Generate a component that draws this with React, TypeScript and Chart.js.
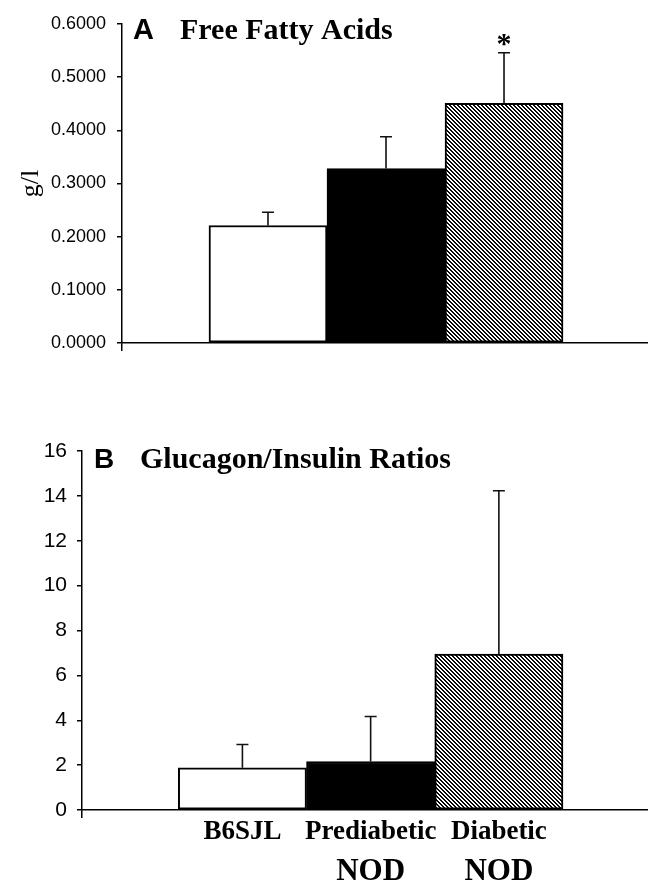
import React, { useEffect, useRef } from 'react';
import { Chart, registerables } from 'chart.js';

Chart.register(...registerables);

// ---- data ----
const groups = ['B6SJL', 'Prediabetic', 'Diabetic'];
const groupSubLabels = ['', 'NOD', 'NOD'];
const groupPositions = [1, 2, 3];

const ffaMeans = [0.221, 0.328, 0.451];
const ffaErrors = [0.025, 0.06, 0.095];
const ffaSignificant = [false, false, true];
const ffaTicks = [0, 0.1, 0.2, 0.3, 0.4, 0.5, 0.6];

const ratioMeans = [1.88, 2.16, 6.95];
const ratioErrors = [1.04, 2.01, 7.28];
const ratioSignificant = [false, false, false];
const ratioTicks = [0, 2, 4, 6, 8, 10, 12, 14, 16];

const SERIF = '"Liberation Serif", "Times New Roman", serif';
const SANS = '"Liberation Sans", Arial, sans-serif';

function makeHatch(): CanvasPattern | string {
  const c = document.createElement('canvas');
  c.width = 4;
  c.height = 4;
  const g = c.getContext('2d');
  if (!g) return '#888';
  const img = g.createImageData(4, 4);
  for (let y = 0; y < 4; y++) {
    for (let x = 0; x < 4; x++) {
      const on = (((x - y) % 4) + 4) % 4 < 2;
      const i = (y * 4 + x) * 4;
      const v = on ? 10 : 255;
      img.data[i] = v;
      img.data[i + 1] = v;
      img.data[i + 2] = v;
      img.data[i + 3] = 255;
    }
  }
  g.putImageData(img, 0, 0);
  const p = g.createPattern(c, 'repeat');
  return p || '#888';
}

const errorBarsPlugin = {
  id: 'errorBars',
  afterDatasetsDraw(chart: any, _args: any, opts: any) {
    const meta = chart.getDatasetMeta(0);
    const ys = chart.scales.y;
    const ctx = chart.ctx;
    ctx.save();
    ctx.strokeStyle = '#111';
    ctx.fillStyle = '#000';
    ctx.lineWidth = 1.6;
    opts.errors.forEach((e: number, i: number) => {
      const bar = meta.data[i];
      if (!bar) return;
      const top = ys.getPixelForValue(opts.means[i] + e);
      ctx.beginPath();
      ctx.moveTo(bar.x, bar.y);
      ctx.lineTo(bar.x, top);
      ctx.moveTo(bar.x - 6, top);
      ctx.lineTo(bar.x + 6, top);
      ctx.stroke();
      if (opts.marks && opts.marks[i]) {
        ctx.font = `bold 30px ${SERIF}`;
        ctx.textAlign = 'center';
        ctx.textBaseline = 'alphabetic';
        ctx.fillText('*', bar.x, top);
      }
    });
    ctx.restore();
  },
};

const panelTitlePlugin = {
  id: 'panelTitle',
  afterDraw(chart: any, _args: any, opts: any) {
    const ctx = chart.ctx;
    const a = chart.chartArea;
    ctx.save();
    ctx.fillStyle = '#000';
    ctx.textAlign = 'left';
    ctx.textBaseline = 'alphabetic';
    ctx.font = `bold ${opts.letterSize}px ${SANS}`;
    ctx.fillText(opts.letter, a.left + opts.letterDx, a.top + opts.dy);
    ctx.font = `bold 30px ${SERIF}`;
    ctx.fillText(opts.text, a.left + opts.textDx, a.top + opts.dy);
    ctx.restore();
  },
};

const subLabelPlugin = {
  id: 'subLabels',
  afterDraw(chart: any, _args: any, opts: any) {
    if (!opts || !opts.labels) return;
    const ctx = chart.ctx;
    const xs = chart.scales.x;
    ctx.save();
    ctx.fillStyle = '#000';
    ctx.textAlign = 'center';
    ctx.textBaseline = 'alphabetic';
    ctx.font = `bold 31px ${SERIF}`;
    opts.labels.forEach((t: string, i: number) => {
      if (!t) return;
      ctx.fillText(t, xs.getPixelForValue(opts.positions[i]), xs.top + opts.dy);
    });
    ctx.restore();
  },
};

function buildConfig(p: {
  means: number[];
  errors: number[];
  marks: boolean[];
  ticks: number[];
  fill: any[];
  xMin: number;
  xMax: number;
  yWidth: number;
  xHeight: number;
  top: number;
  tickFont: any;
  tickPadding: number;
  tickFormat: (v: number) => string;
  showLabels: boolean;
  yTitle?: string;
  title: any;
  subLabels?: any;
}) {
  const yMin = p.ticks[0];
  const yMax = p.ticks[p.ticks.length - 1];
  return {
    type: 'bar' as const,
    data: {
      datasets: [
        {
          data: groupPositions.map((x, i) => ({ x, y: p.means[i] })),
          backgroundColor: p.fill,
          borderColor: '#000',
          borderWidth: 2,
          borderSkipped: false,
          barPercentage: 1,
          categoryPercentage: 1,
        },
      ],
    },
    plugins: [errorBarsPlugin, panelTitlePlugin, subLabelPlugin],
    options: {
      responsive: false,
      animation: false as const,
      devicePixelRatio: 1,
      layout: { padding: { top: p.top, left: 0, right: 0, bottom: 0 } },
      scales: {
        x: {
          type: 'linear' as const,
          position: 'bottom' as const,
          offset: false,
          bounds: 'data' as const,
          min: p.xMin,
          max: p.xMax,
          afterBuildTicks: (scale: any) => {
            scale.ticks = [{ value: p.xMin }, ...groupPositions.map((v) => ({ value: v }))];
          },
          afterFit: (scale: any) => {
            scale.height = p.xHeight;
          },
          border: { display: true, color: '#000', width: 1.5 },
          grid: {
            display: true,
            offset: false,
            drawOnChartArea: false,
            drawTicks: true,
            tickLength: 8,
            lineWidth: 1.5,
            color: (ctx: any) => (ctx.tick && ctx.tick.value === p.xMin ? '#000' : 'rgba(0,0,0,0)'),
          },
          ticks: {
            autoSkip: false,
            maxRotation: 0,
            minRotation: 0,
            padding: 1,
            color: '#000',
            font: { family: SERIF, size: 27, weight: 'bold' as const, lineHeight: 1 },
            callback: (v: any) => {
              if (!p.showLabels) return '';
              const idx = groupPositions.indexOf(Number(v));
              return idx >= 0 ? groups[idx] : '';
            },
          },
        },
        y: {
          type: 'linear' as const,
          min: yMin,
          max: yMax,
          afterBuildTicks: (scale: any) => {
            scale.ticks = p.ticks.map((v) => ({ value: v }));
          },
          afterFit: (scale: any) => {
            scale.width = p.yWidth;
          },
          border: { display: true, color: '#000', width: 1.5 },
          grid: {
            drawOnChartArea: false,
            drawTicks: true,
            tickLength: 5,
            color: '#000',
            lineWidth: 1.5,
          },
          ticks: {
            padding: p.tickPadding,
            color: '#000',
            font: p.tickFont,
            callback: (v: any) => p.tickFormat(Number(v)),
          },
          title: p.yTitle
            ? {
                display: true,
                text: p.yTitle,
                color: '#000',
                font: { family: SERIF, size: 26 },
                padding: { top: 16, bottom: 0 },
              }
            : { display: false },
        },
      },
      plugins: {
        legend: { display: false },
        tooltip: { enabled: false },
        errorBars: { means: p.means, errors: p.errors, marks: p.marks },
        panelTitle: p.title,
        subLabels: p.subLabels || {},
      },
    },
  };
}

export default function App() {
  const refA = useRef<HTMLCanvasElement | null>(null);
  const refB = useRef<HTMLCanvasElement | null>(null);

  useEffect(() => {
    const hatch = makeHatch();
    const fill = ['#ffffff', '#000000', hatch];
    const chartA = new Chart(
      refA.current as HTMLCanvasElement,
      buildConfig({
        means: ffaMeans,
        errors: ffaErrors,
        marks: ffaSignificant,
        ticks: ffaTicks,
        fill,
        xMin: -0.237,
        xMax: 4.22,
        yWidth: 122,
        xHeight: 37,
        top: 24,
        tickFont: { family: SANS, size: 18 },
        tickPadding: 11,
        tickFormat: (v) => v.toFixed(4),
        showLabels: false,
        yTitle: 'g/l',
        title: { letter: 'A', letterSize: 29, letterDx: 11, text: 'Free Fatty Acids', textDx: 58, dy: 15 },
      }) as any
    );
    const chartB = new Chart(
      refB.current as HTMLCanvasElement,
      buildConfig({
        means: ratioMeans,
        errors: ratioErrors,
        marks: ratioSignificant,
        ticks: ratioTicks,
        fill,
        xMin: -0.251,
        xMax: 4.163,
        yWidth: 82,
        xHeight: 73,
        top: 51,
        tickFont: { family: SANS, size: 21 },
        tickPadding: 10,
        tickFormat: (v) => String(v),
        showLabels: true,
        title: { letter: 'B', letterSize: 28, letterDx: 12, text: 'Glucagon/Insulin Ratios', textDx: 58, dy: 17 },
        subLabels: { labels: groupSubLabels, positions: groupPositions, dy: 70 },
      }) as any
    );
    return () => {
      chartA.destroy();
      chartB.destroy();
    };
  }, []);

  return (
    <div style={{ position: 'absolute', left: 0, top: 0, width: 648, height: 883, background: '#fff' }}>
      <canvas ref={refA} width={648} height={380} style={{ position: 'absolute', left: 0, top: 0, width: 648, height: 380 }} />
      <canvas ref={refB} width={648} height={483} style={{ position: 'absolute', left: 0, top: 400, width: 648, height: 483 }} />
    </div>
  );
}
